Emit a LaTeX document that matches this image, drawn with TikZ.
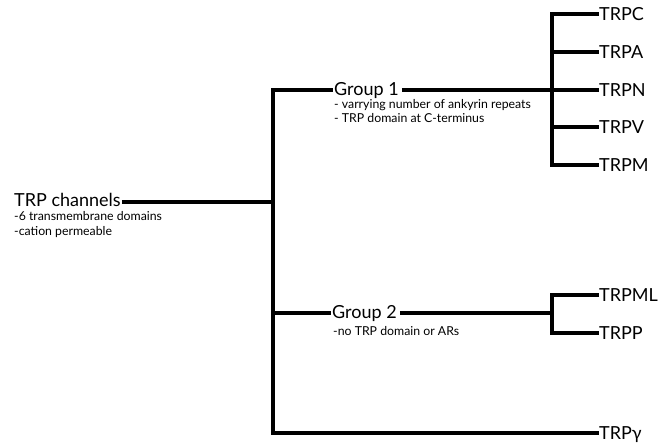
\documentclass[tikz,border=0pt]{standalone}
\usepackage{fontspec}
\setmainfont{Lato}
\begin{document}
\begin{tikzpicture}[x=1pt,y=-1pt,
  br/.style={line width=3.2pt},
  big/.style={inner sep=0pt,font=\fontsize{18}{20}\selectfont,text depth=0pt},
  leaf/.style={inner sep=0pt,anchor=west,font=\fontsize{18}{20}\selectfont,text depth=0pt},
  small/.style={inner sep=0pt,anchor=base west,font=\fontsize{12.3}{15}\selectfont}]
\useasboundingbox (0,0) rectangle (659,443);
% junctions
\coordinate (t1) at (273,90);
\coordinate (t0) at (273,202);
\coordinate (t2) at (273,313);
\coordinate (t3) at (273,433);
\coordinate (r1a) at (552,14);
\coordinate (r1b) at (552,165);
\coordinate (r1) at (552,90);
\coordinate (r2a) at (552,295);
\coordinate (r2b) at (552,333);
\coordinate (r2) at (552,313);
% main labels
\node[big,anchor=west] (tc) at (14,199.5) {TRP channels};
\node[small] (tcs1) at (14,221) {-6 transmembrane domains};
\node[small] (tcs2) at (14,236) {-cation permeable};
\node[big,anchor=west] (g1) at (334,89) {Group 1};
\node[small] (g1s1) at (334,109) {- varrying number of ankyrin repeats};
\node[small] (g1s2) at (334,123) {- TRP domain at C-terminus};
\node[big,anchor=west] (g2) at (332,312) {Group 2};
\node[small] (g2s) at (333,336) {-no TRP domain or ARs};
% leaves
\node[leaf] (trpc) at (599,14) {TRPC};
\node[leaf] (trpa) at (599,52) {TRPA};
\node[leaf] (trpn) at (599,90) {TRPN};
\node[leaf] (trpv) at (599,127) {TRPV};
\node[leaf] (trpm) at (599,165) {TRPM};
\node[leaf] (trpml) at (599,295) {TRPML};
\node[leaf] (trpp) at (599,333) {TRPP};
\node[leaf] (trpy) at (599,433) {TRPγ};
% connectors
\draw[br] ([xshift=1pt]tc.east |- t0) -- (t0);
\draw[br,line cap=rect] (t1) -- (t3);
\draw[br] (t1) -- ([xshift=-1pt]g1.west |- t1);
\draw[br] (t2) -- ([xshift=-1pt]g2.west |- t2);
\draw[br] ([xshift=3pt]g1.east |- r1) -- (r1);
\draw[br] ([xshift=3pt]g2.east |- r2) -- (r2);
\draw[br] (t3) -- (trpy.west);
\draw[br] (r1a) -- (r1b);
\draw[br] (r2a) -- (r2b);
\draw[br] ([xshift=-1.6pt]r1a) -- (trpc.west);
\draw[br] (r1a |- trpa.west) -- (trpa.west);
\draw[br] (r1) -- (trpn.west);
\draw[br] (r1a |- trpv.west) -- (trpv.west);
\draw[br] ([xshift=-1.6pt]r1b) -- (trpm.west);
\draw[br] ([xshift=-1.6pt]r2a) -- (trpml.west);
\draw[br] ([xshift=-1.6pt]r2b) -- (trpp.west);
\end{tikzpicture}
\end{document}
